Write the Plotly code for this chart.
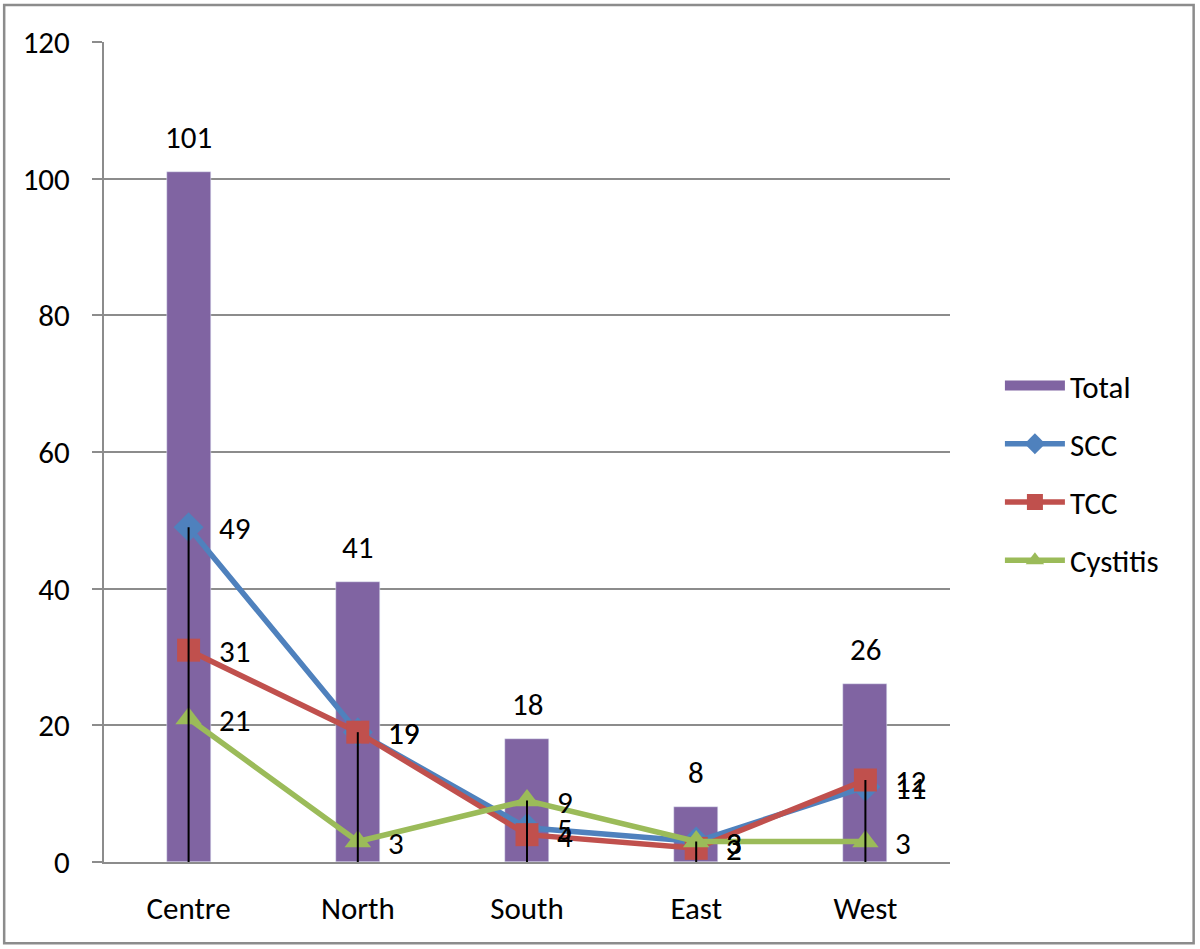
import plotly.graph_objects as go

regions = ["Centre", "North", "South", "East", "West"]
total = [101, 41, 18, 8, 26]
scc = [49, 19, 5, 3, 11]
tcc = [31, 19, 4, 2, 12]
cystitis = [21, 3, 9, 3, 3]

font = dict(family="Carlito, Open Sans, sans-serif", size=31, color="black")
grey = "#8c8c8c"
purple = "#8064A2"

fig = go.Figure()
fig.add_bar(x=regions, y=total, name="Total", marker_color=purple, width=0.26,
            showlegend=False)
# legend entry for the bars (wide swatch like the original)
fig.add_scatter(x=[None], y=[None], mode="lines", name="Total", legendgroup="a",
                line=dict(color=purple, width=10))

lines = [("SCC", scc, "#4F81BD", "diamond"),
         ("TCC", tcc, "#C0504D", "square"),
         ("Cystitis", cystitis, "#9BBB59", "triangle-up")]
for name, vals, col, sym in lines:
    fig.add_scatter(x=regions, y=vals, name=name, mode="lines+markers",
                    line=dict(color=col, width=5.5), legendgroup=name,
                    marker=dict(symbol=sym, size=23, color=col))

# drop lines from the highest line point down to the axis
dx, dy = [], []
for i, r in enumerate(regions):
    dx += [r, r, None]
    dy += [0, max(scc[i], tcc[i], cystitis[i]), None]
fig.add_scatter(x=dx, y=dy, mode="lines", line=dict(color="black", width=2),
                showlegend=False, hoverinfo="skip")

for r, v in zip(regions, total):
    fig.add_annotation(x=r, y=v, text=str(v), showarrow=False, yanchor="bottom",
                       yshift=14, font=font)
for name, vals, col, sym in lines:
    for r, v in zip(regions, vals):
        fig.add_annotation(x=r, y=v, text=str(v), showarrow=False, xanchor="left",
                           yanchor="middle", xshift=28, yshift=-1, font=font)

fig.add_shape(type="rect", xref="paper", yref="paper",
              x0=-0.118, x1=1.288, y0=-0.099, y1=1.045,
              line=dict(color=grey, width=2.5))

fig.update_layout(
    width=1200, height=949,
    margin=dict(l=104, r=250, t=42, b=87),
    plot_bgcolor="white", paper_bgcolor="white",
    font=font, bargap=0,
    legend=dict(x=1.059, y=0.474, yanchor="middle", xanchor="left",
                tracegroupgap=15, itemwidth=60, font=font),
)
fig.update_yaxes(range=[0, 120], dtick=20, showgrid=True, gridcolor=grey, gridwidth=1.5,
                 showline=True, linecolor=grey, linewidth=2, ticks="outside",
                 ticklen=10, tickcolor=grey, tickwidth=2, ticklabelstandoff=16,
                 zeroline=False)
fig.update_xaxes(showline=True, linecolor=grey, linewidth=2, ticks="",
                 ticklabelstandoff=18)

fig.write_html("out.html", config={"displayModeBar": False},
               post_script="document.body.style.margin='0';")
